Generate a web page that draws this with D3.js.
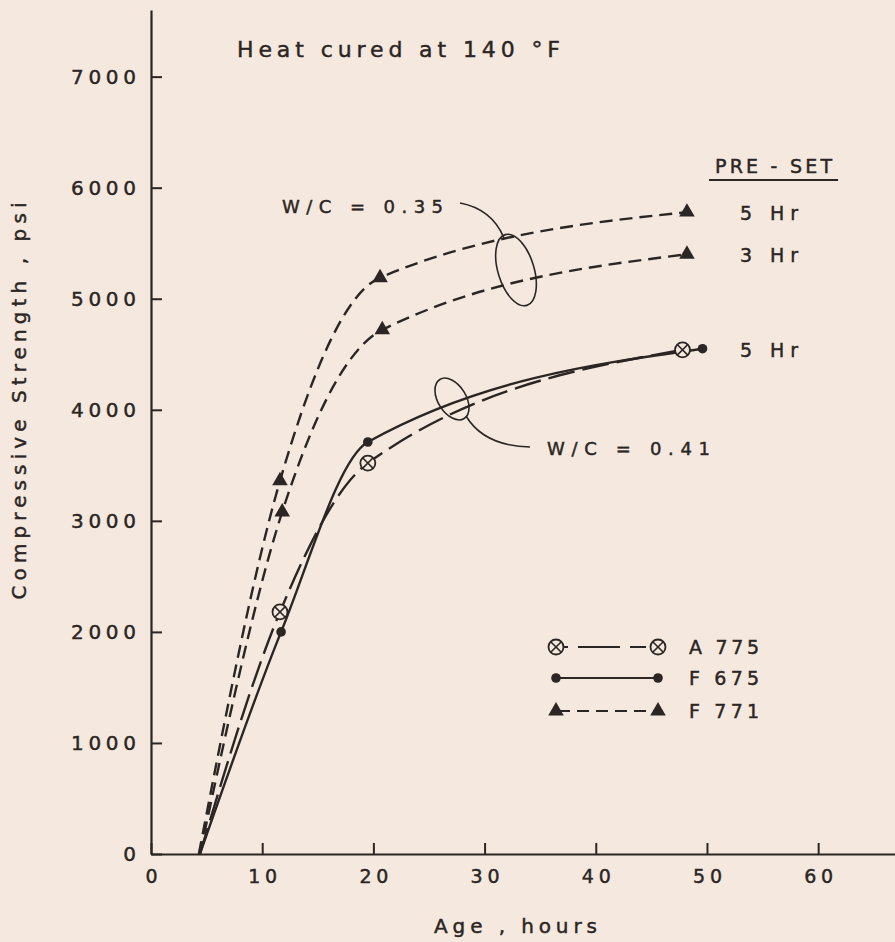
<!DOCTYPE html>
<html>
<head>
<meta charset="utf-8">
<script src="https://cdn.jsdelivr.net/npm/d3@7"></script>
<style>
  html, body { margin: 0; padding: 0; background: #f5e9df; }
  svg { display: block; }
  text { font-family: "DejaVu Sans", sans-serif; fill: #2b2523; stroke: #2b2523; stroke-width: 0.45px; }
</style>
</head>
<body>
<svg id="chart" width="895" height="942"></svg>
<script>
// values (age in hours, strength in psi)
const xTicks = [0, 10, 20, 30, 40, 50, 60];
const yTicks = [0, 1000, 2000, 3000, 4000, 5000, 6000, 7000];

const hoursA775 = [4.4, 11.6, 19.5, 47.8];
const psiA775 = [0, 2180, 3520, 4540];
const hoursF675 = [4.4, 11.7, 19.5, 49.6];
const psiF675 = [0, 2000, 3710, 4550];
const hoursF771pre5 = [4.3, 11.6, 20.6, 48.2];
const psiF771pre5 = [0, 3360, 5190, 5780];
const hoursF771pre3 = [4.4, 11.8, 20.8, 48.2];
const psiF771pre3 = [0, 3080, 4720, 5400];

const legendNames = ["A 775", "F 675", "F 771"];
const presetLabels = ["5 Hr", "3 Hr", "5 Hr"];

const ink = "#2b2523"
const paper = "#f5e9df"

const svg = d3.select("#chart")

const x = d3.scaleLinear().domain([0, 67]).range([151, 896])
const y = d3.scaleLinear().domain([0, 7600]).range([854, 10])

// axes: ticks point inwards, no outer ticks
const xAxis = svg.append("g")
  .attr("transform", "translate(0," + y(0) + ")")
  .call(d3.axisBottom(x).tickValues(xTicks).tickFormat(d3.format("d"))
    .tickSize(-11).tickSizeOuter(0).tickPadding(16))
const yAxis = svg.append("g")
  .attr("transform", "translate(" + x(0) + ",0)")
  .call(d3.axisLeft(y).tickValues(yTicks).tickFormat(d3.format("d"))
    .tickSize(-11).tickSizeOuter(0).tickPadding(15))

;[xAxis, yAxis].forEach(g => {
  g.select(".domain").attr("stroke", ink).attr("stroke-width", 2.2)
  g.selectAll(".tick line").attr("stroke", ink).attr("stroke-width", 2)
  g.selectAll(".tick text").attr("fill", ink).attr("font-size", 19)
    .attr("font-family", "DejaVu Sans, sans-serif")
})
yAxis.selectAll(".tick text")
  .attr("font-size", 20)
  .attr("textLength", d => d === 0 ? null : 65)
  .attr("lengthAdjust", "spacing")
xAxis.selectAll(".tick text")
  .attr("textLength", d => d === 0 ? null : 29)
  .attr("lengthAdjust", "spacing")

// axis titles
svg.append("text")
  .attr("transform", "translate(26,401) rotate(-90)")
  .attr("text-anchor", "middle")
  .attr("font-size", 20)
  .attr("textLength", 397).attr("lengthAdjust", "spacing")
  .text("Compressive  Strength ,  psi")
svg.append("text")
  .attr("x", 434).attr("y", 933)
  .attr("font-size", 20)
  .attr("textLength", 163).attr("lengthAdjust", "spacing")
  .text("Age ,  hours")

svg.append("text")
  .attr("x", 237).attr("y", 57)
  .attr("font-size", 22)
  .attr("textLength", 323).attr("lengthAdjust", "spacing")
  .text("Heat  cured  at  140 °F")

// curves
const series = [
  { h: hoursA775, v: psiA775, mark: "cross", dash: "27,8" },
  { h: hoursF675, v: psiF675, mark: "dot", dash: null },
  { h: hoursF771pre5, v: psiF771pre5, mark: "tri", dash: "13,7" },
  { h: hoursF771pre3, v: psiF771pre3, mark: "tri", dash: "13,7" },
]

const line = d3.line().x(d => x(d[0])).y(d => y(d[1])).curve(d3.curveMonotoneX)

function drawMark(g, type, cx, cy) {
  if (type === "cross") {
    g.append("circle").attr("cx", cx).attr("cy", cy).attr("r", 7.5)
      .attr("fill", paper).attr("stroke", ink).attr("stroke-width", 1.8)
    const k = 5.3
    g.append("path")
      .attr("d", `M${cx - k},${cy - k}L${cx + k},${cy + k}M${cx - k},${cy + k}L${cx + k},${cy - k}`)
      .attr("stroke", ink).attr("stroke-width", 1.6)
  } else if (type === "dot") {
    g.append("circle").attr("cx", cx).attr("cy", cy).attr("r", 4.8).attr("fill", ink)
  } else {
    g.append("path")
      .attr("d", d3.symbol(d3.symbolTriangle, 105)())
      .attr("transform", `translate(${cx},${cy})`)
      .attr("fill", ink)
  }
}

series.forEach(s => {
  const pts = s.h.map((h, i) => [h, s.v[i]])
  svg.append("path")
    .attr("d", line(pts))
    .attr("fill", "none")
    .attr("stroke", ink)
    .attr("stroke-width", 2.4)
    .attr("stroke-dasharray", s.dash)
})
series.forEach(s => {
  const g = svg.append("g")
  s.h.forEach((h, i) => {
    if (s.v[i] > 0) drawMark(g, s.mark, x(h), y(s.v[i]))
  })
})

// W/C groupings
const note = svg.append("g").attr("fill", "none").attr("stroke", ink).attr("stroke-width", 1.6)
note.append("ellipse").attr("cx", 0).attr("cy", 0).attr("rx", 18).attr("ry", 37)
  .attr("transform", "translate(516,270) rotate(-17)")
note.append("path").attr("d", "M460,203 Q492,209 504,238")
note.append("ellipse").attr("cx", 0).attr("cy", 0).attr("rx", 14).attr("ry", 23)
  .attr("transform", "translate(452,399) rotate(-32)")
note.append("path").attr("d", "M466,416 Q484,446 530,447")

svg.append("text").attr("x", 282).attr("y", 213).attr("font-size", 18)
  .attr("textLength", 161).attr("lengthAdjust", "spacing")
  .text("W/C  =  0.35")
svg.append("text").attr("x", 547).attr("y", 455).attr("font-size", 18)
  .attr("textLength", 163).attr("lengthAdjust", "spacing")
  .text("W/C  =  0.41")

// pre-set labels at the right
svg.append("text").attr("x", 715).attr("y", 173).attr("font-size", 19)
  .attr("textLength", 117).attr("lengthAdjust", "spacing")
  .text("PRE - SET")
svg.append("line").attr("x1", 709).attr("x2", 838).attr("y1", 180).attr("y2", 180)
  .attr("stroke", ink).attr("stroke-width", 2)
const presetY = [220, 262, 357]
presetLabels.forEach((t, i) => {
  svg.append("text").attr("x", 740).attr("y", presetY[i]).attr("font-size", 19)
    .attr("textLength", 58).attr("lengthAdjust", "spacing")
    .text(t.replace(" ", "  "))
})

// legend
const legendMarks = ["cross", "dot", "tri"]
const legendDash = ["10,10,42,10,16", null, "12,7"]
const legendY = [647, 678, 711]
const lg = svg.append("g")
legendNames.forEach((name, i) => {
  const ly = legendY[i]
  lg.append("line").attr("x1", 558).attr("x2", 655).attr("y1", ly).attr("y2", ly)
    .attr("stroke", ink).attr("stroke-width", 2)
    .attr("stroke-dasharray", legendDash[i])
  drawMark(lg, legendMarks[i], 556, ly)
  drawMark(lg, legendMarks[i], 658, ly)
  lg.append("text").attr("x", 689).attr("y", ly + 7).attr("font-size", 19)
    .attr("textLength", 70).attr("lengthAdjust", "spacing")
    .text(name)
})
</script>
</body>
</html>
